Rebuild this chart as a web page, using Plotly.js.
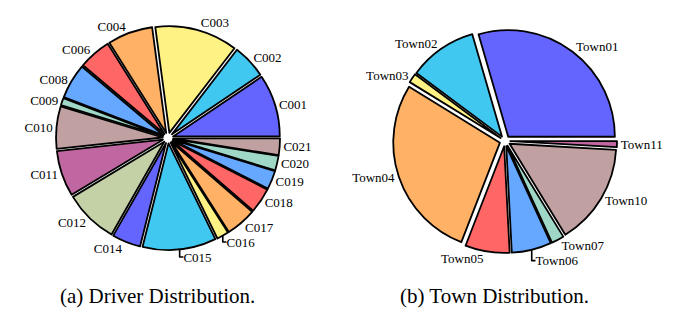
<!DOCTYPE html>
<html>
<head>
<meta charset="utf-8">
<script src="https://cdn.plot.ly/plotly-3.0.1.min.js"></script>
<style>html,body{margin:0;padding:0;background:#fff;}#chart{width:699px;height:312px;}</style>
</head>
<body>
<div id="chart"></div>
<script>
const driverLabels = ["C001","C002","C003","C004","C006","C008","C009","C010","C011","C012","C014","C015","C016","C017","C018","C019","C020","C021"];
const driverValues = [9.4,5.1,12.5,6.8,4.9,5.3,1.1,6.4,6.9,8.1,4.3,11.1,1.8,4.6,3.8,2.8,2.2,2.5];
const townLabels = ["Town01","Town02","Town03","Town04","Town05","Town06","Town07","Town10","Town11"];
const townValues = [29.4,10.3,1.4,27.8,6.7,6.0,1.9,15.3,0.9];
const captions = ["(a) Driver Distribution.","(b) Town Distribution."];

const palette = ["#6464ff","#40c8f0","#fff285","#ffb266","#ff6666","#66a8ff","#a0d8c8","#c0a0a0","#c066a0","#c4d0a6"];
const colorsFor = n => Array.from({length:n},(_,i)=>palette[i%palette.length]);
const serif = "Liberation Serif, Times New Roman, serif";

function pieTrace(labels, values, domain){
  const total = values.reduce((a,b)=>a+b,0);
  // first slice should start at 3 o'clock and run counterclockwise
  const rot = 90 - 360*values[0]/total;
  return {
    type:"pie", labels:labels, values:values, sort:false,
    direction:"counterclockwise", rotation:rot,
    pull: labels.map(()=>0.05),
    marker:{colors:colorsFor(labels.length), line:{color:"#000", width:1.8}},
    textinfo:"label", textposition:"outside",
    outsidetextfont:{family:serif, size:13, color:"#000"},
    showlegend:false, hoverinfo:"label+percent",
    domain:domain, automargin:false
  };
}

const data = [
  pieTrace(driverLabels, driverValues, {x:[0.0801,0.4006], y:[0.1987,0.9167]}),
  pieTrace(townLabels, townValues, {x:[0.5622,0.8827], y:[0.1891,0.9071]})
];
const layout = {
  width:699, height:312, margin:{l:0,r:0,t:0,b:0},
  paper_bgcolor:"#fff", plot_bgcolor:"#fff",
  annotations:[
    {text:captions[0], x:157/699, y:0.051, xref:"paper", yref:"paper", xanchor:"center", yanchor:"middle", showarrow:false, font:{family:serif, size:21, color:"#000"}},
    {text:captions[1], x:494/699, y:0.051, xref:"paper", yref:"paper", xanchor:"center", yanchor:"middle", showarrow:false, font:{family:serif, size:21, color:"#000"}}
  ]
};
Plotly.newPlot("chart", data, layout, {displayModeBar:false, staticPlot:true});
</script>
</body>
</html>
